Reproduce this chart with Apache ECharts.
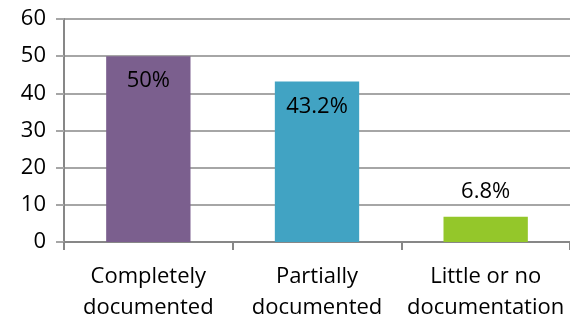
<!DOCTYPE html>
<html>
<head>
<meta charset="utf-8">
<script src="https://cdn.jsdelivr.net/npm/echarts@6/dist/echarts.min.js"></script>
<style>
  html, body { margin: 0; padding: 0; background: #fff; }
  #chart { width: 570px; height: 324px; }
</style>
</head>
<body>
<div id="chart"></div>
<script>
// Share of items by documentation level (percent)
const categories = ['Completely\ndocumented', 'Partially\ndocumented', 'Little or no\ndocumentation'];
const values = [50, 43.2, 6.8];
const barColors = ['#7B5F8E', '#41A3C3', '#94C72A'];
const valueLabels = ['50%', '43.2%', '6.8%'];
// 'insideTop' when the label fits inside the bar, 'top' otherwise
const labelPlacement = ['insideTop', 'insideTop', 'top'];
const yTicks = { min: 0, max: 60, interval: 10 };

const FONT = '"Open Sans"';

const chart = echarts.init(document.getElementById('chart'), null, { renderer: 'canvas' });

chart.setOption({
  animation: false,
  backgroundColor: '#fff',
  grid: { left: 64, right: 0, top: 19, bottom: 82, containLabel: false },
  xAxis: {
    type: 'category',
    data: categories,
    axisLine: { show: true, lineStyle: { color: '#878787', width: 2 } },
    axisTick: { show: true, alignWithLabel: false, length: 8, lineStyle: { color: '#878787', width: 2 } },
    axisLabel: {
      color: '#000', fontFamily: FONT, fontSize: 22, lineHeight: 31, margin: 19, interval: 0
    },
    splitLine: { show: false }
  },
  yAxis: {
    type: 'value',
    min: yTicks.min, max: yTicks.max, interval: yTicks.interval,
    axisLine: { show: true, lineStyle: { color: '#878787', width: 2 } },
    axisTick: { show: true, length: 8, lineStyle: { color: '#A6A6A6', width: 2 } },
    axisLabel: { color: '#000', fontFamily: FONT, fontSize: 22, margin: 18 },
    splitLine: { show: true, lineStyle: { color: '#A6A6A6', width: 2 } }
  },
  series: [{
    type: 'bar',
    barWidth: '50%',
    data: values.map((v, i) => ({
      value: v,
      itemStyle: { color: barColors[i] },
      label: {
        show: true,
        position: labelPlacement[i],
        distance: labelPlacement[i] === 'top' ? 14 : 14,
        formatter: valueLabels[i],
        color: '#000',
        fontFamily: FONT,
        fontSize: 22
      }
    }))
  }]
});
</script>
</body>
</html>
